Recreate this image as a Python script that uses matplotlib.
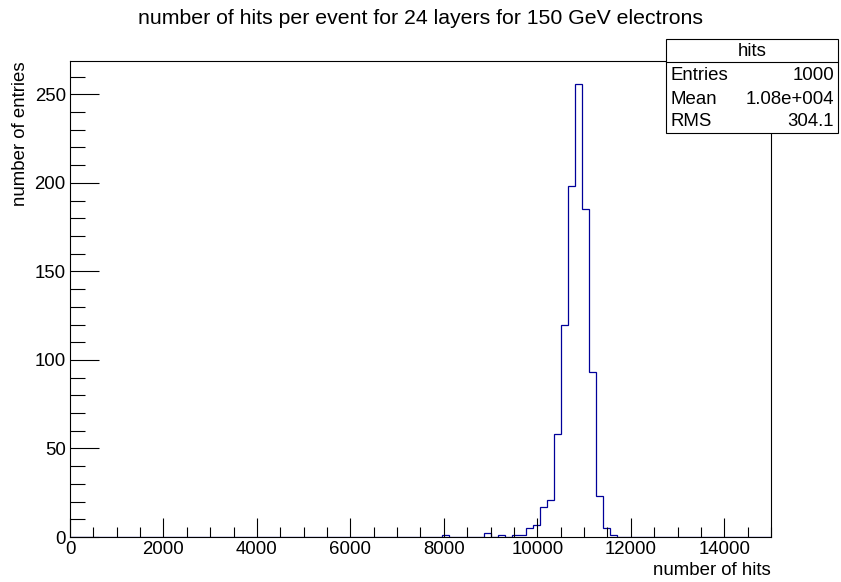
import matplotlib
matplotlib.use("Agg")
import matplotlib.pyplot as plt
from matplotlib.patches import Rectangle
from matplotlib.ticker import MultipleLocator
import numpy as np

# histogramme "hits" : 100 bins de 150 entre 0 et 15000
x_min, x_max, bin_width = 0, 15000, 150
# bins non vides (bord gauche -> contenu)
bin_low = [7950, 8850, 9150, 9450, 9600, 9750, 9900, 10050, 10200, 10350,
           10500, 10650, 10800, 10950, 11100, 11250, 11400, 11550]
bin_count = [1, 2, 1, 1, 1, 5, 7, 17, 21, 58,
             120, 198, 256, 185, 93, 23, 5, 1]

stat_names = ["Entries", "Mean", "RMS"]
stat_values = ["1000", "1.08e+004", "304.1"]

edges = np.arange(x_min, x_max + bin_width, bin_width)
counts = np.zeros(len(edges) - 1)
for lo, c in zip(bin_low, bin_count):
    counts[int(round((lo - x_min) / bin_width))] = c

plt.rcParams['font.family'] = ['Liberation Sans', 'DejaVu Sans']
fs = 13.4

fig = plt.figure(figsize=(8.41, 5.82), dpi=100)
ax = fig.add_axes([70 / 841, 1 - 537 / 582, (771 - 70) / 841, (537 - 61) / 582])

ax.stairs(counts, edges, color='#000099', lw=0.9, baseline=0)
ax.set_xlim(x_min, x_max)
ax.set_ylim(0, counts.max() * 1.05)

ax.xaxis.set_major_locator(MultipleLocator(2000))
ax.xaxis.set_minor_locator(MultipleLocator(500))
ax.yaxis.set_major_locator(MultipleLocator(50))
ax.yaxis.set_minor_locator(MultipleLocator(10))
ax.tick_params(which='both', direction='in', top=False, right=False,
               labelsize=fs, width=0.8)
ax.tick_params(axis='x', which='major', length=14, pad=3)
ax.tick_params(axis='x', which='minor', length=7)
ax.tick_params(axis='y', which='major', length=21, pad=3)
ax.tick_params(axis='y', which='minor', length=10.5)
for s in ax.spines.values():
    s.set_linewidth(0.8)

ax.set_xlabel("number of hits", fontsize=fs, loc='right', labelpad=3)
ax.set_ylabel("number of entries", fontsize=fs, loc='top', labelpad=4)

fig.text(0.5, 1 - 18 / 582, "number of hits per event for 24 layers for 150 GeV electrons",
         ha='center', va='center', fontsize=15.3)

# boite de statistiques
bx0, bx1 = 666 / 841, 838 / 841
by0, by1 = 1 - 133 / 582, 1 - 39 / 582
fig.patches.append(Rectangle((bx0, by0), bx1 - bx0, by1 - by0, transform=fig.transFigure,
                             facecolor='white', edgecolor='black', lw=0.8, zorder=5))
fig.add_artist(plt.Line2D([bx0, bx1], [1 - 62 / 582] * 2, transform=fig.transFigure,
                          color='black', lw=0.8, zorder=6))
fig.text((bx0 + bx1) / 2, 1 - 51 / 582, "hits", ha='center', va='center', fontsize=fs, zorder=7)
for k, (name, val) in enumerate(zip(stat_names, stat_values)):
    yy = 1 - (76 + 23 * k) / 582
    fig.text(bx0 + 4 / 841, yy, name, ha='left', va='center', fontsize=fs, zorder=7)
    fig.text(bx1 - 4 / 841, yy, val, ha='right', va='center', fontsize=fs, zorder=7)

fig.savefig("out.png", dpi=100)
